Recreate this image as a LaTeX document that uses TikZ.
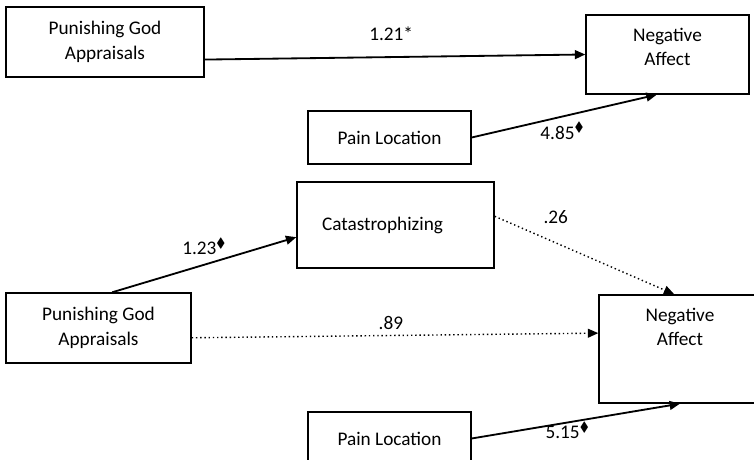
\documentclass[tikz,border=0pt]{standalone}
\usepackage{fontspec}
\setmainfont{Carlito}
\usepackage{amssymb}
\usetikzlibrary{arrows.meta}

\begin{document}
\begin{tikzpicture}[
    box/.style={rectangle, draw, line width=1pt, inner sep=0pt, align=center},
    toptext/.style={anchor=north, align=center, inner sep=0pt, yshift=-0.33cm},
    effect/.style={line width=1.3pt, -{Triangle[length=2.6mm, width=2.2mm]}},
    weak/.style={effect, line width=1pt, dotted},
    coef/.style={inner sep=0pt},
    font=\fontsize{13.7pt}{17.4pt}\selectfont
]
  \useasboundingbox (0,0) rectangle (18.85,11.5);

  % 上图: 方框
  \node[box, minimum width=4.95cm, minimum height=1.75cm] (pga1) at (2.625,10.45) {Punishing God\\Appraisals};
  \node[box, minimum width=4.075cm, minimum height=1.975cm,
        label={[toptext]north:Negative\\Affect}] (na1) at (16.6875,10.1375) {};
  \node[box, minimum width=4.075cm, minimum height=1.325cm] (pain1) at (9.7375,8.0625) {Pain Location};

  % 下图: 方框
  \node[box, minimum width=4.925cm, minimum height=2.15cm, text width=3.675cm,
        inner xsep=0.625cm, align=left] (cat) at (9.8875,5.875) {Catastrophizing};
  \node[box, minimum width=4.625cm, minimum height=1.75cm] (pga2) at (2.4625,3.3) {Punishing God\\Appraisals};
  \node[box, minimum width=4.05cm, minimum height=2.7cm,
        label={[toptext]north:Negative\\Affect}] (na2) at (17,2.775) {};
  \node[box, minimum width=4.075cm, minimum height=1.325cm] (pain2) at (9.7375,0.5375) {Pain Location};

  % 路径和系数
  \draw[effect] (pga1.-10) -- node[coef, pos=0.49, yshift=0.59cm] {1.21*} (na1.west);
  \draw[effect] (pain1.east) -- node[coef, pos=0.49, yshift=-0.36cm] {4.85$^\blacklozenge$} (na1.255);

  \draw[effect] (pga2.69) -- node[coef, pos=0.5, yshift=0.45cm] {1.23$^\blacklozenge$} (cat.187);
  \draw[weak] (cat.5) -- node[coef, pos=0.34, yshift=0.65cm] {.26} (na2.96);
  \draw[weak] (pga2.-6) -- node[coef, pos=0.49, yshift=0.3cm] {.89} (na2.169);
  \draw[effect] (pain2.east) -- node[coef, pos=0.46, yshift=-0.2cm] {5.15$^\blacklozenge$} (na2.south);

\end{tikzpicture}
\end{document}
